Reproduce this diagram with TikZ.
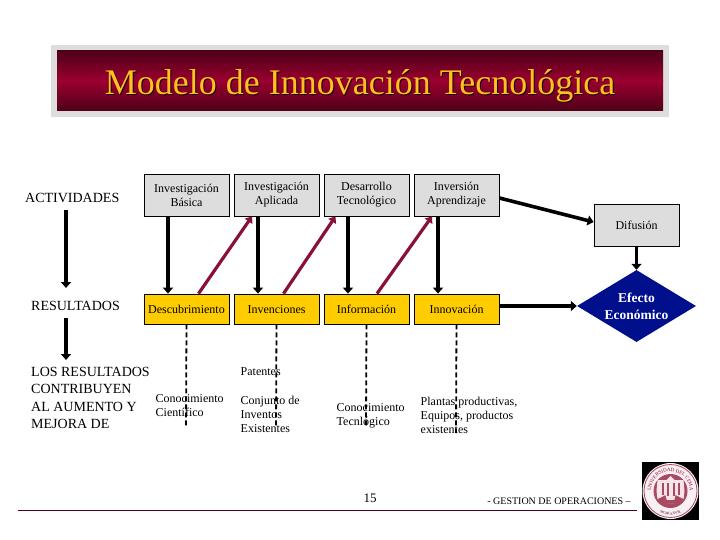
\documentclass[tikz,border=0pt]{standalone}
\usepackage{fontspec}
\setmainfont{Liberation Serif}
\usetikzlibrary{shapes.geometric,arrows.meta,decorations.text}
\definecolor{bandgray}{HTML}{DDDDDD}
\definecolor{boxgray}{HTML}{DDDDDD}
\definecolor{boxgold}{HTML}{FFCC00}
\definecolor{crim}{HTML}{9A0030}
\definecolor{crimdark}{HTML}{4E0018}
\definecolor{arrowred}{HTML}{8B1035}
\definecolor{navy}{HTML}{000F8C}
\definecolor{titlegold}{HTML}{FFC020}
\definecolor{sealred}{HTML}{A84A62}
\tikzset{
  x=1pt,y=-1pt,
  txt/.style={font=\fontsize{12}{14.3}\selectfont,inner sep=0,align=left},
  bigtxt/.style={font=\fontsize{14}{17.3}\selectfont,inner sep=0,align=left},
  boxtxt/.style={font=\fontsize{12}{14}\selectfont},
  graybox/.style={draw=black,line width=.8pt,fill=boxgray,minimum width=85pt,minimum height=42pt,inner sep=0,align=center,boxtxt},
  goldbox/.style={draw=black,line width=.8pt,fill=boxgold,minimum width=85pt,minimum height=30pt,inner sep=0,align=center,boxtxt,text height=10pt,text depth=2pt},
  blackarrow/.style={line width=3.6pt,draw=black,-{Triangle[length=6pt,width=10pt]}},
  redarrow/.style={line width=3.2pt,draw=arrowred,-{Triangle[length=6pt,width=9pt]}},
  dashline/.style={line width=1.8pt,draw=black,dash pattern=on 5pt off 3pt},
}
\begin{document}
\begin{tikzpicture}
\useasboundingbox (0,0) rectangle (720,540);
\fill[white] (0,0) rectangle (720,540);
% title band
\fill[bandgray] (51,45) rectangle (669,117);
\fill[top color=crimdark,bottom color=crim] (57,51) rectangle (663,81);
\fill[top color=crim,bottom color=crimdark] (57,81) rectangle (663,111);
\node[font=\fontsize{36}{38}\selectfont,text=black!70!crimdark,inner sep=0] at (361,87) {Modelo de Innovación Tecnológica};
\node[font=\fontsize{36}{38}\selectfont,text=titlegold,inner sep=0] (title) at (360,86) {Modelo de Innovación Tecnológica};
% row labels
\node[bigtxt,anchor=west] (act) at (25,198) {ACTIVIDADES};
\node[bigtxt,anchor=west] (res) at (31,306) {RESULTADOS};
\node[bigtxt,anchor=north west] (los) at (31,367) {LOS RESULTADOS\\CONTRIBUYEN\\AL AUMENTO Y\\MEJORA DE};
% boxes
\node[graybox] (ib) at (186.5,195) {Investigación\\Básica};
\node[graybox] (ia) at (276.5,195) {Investigación\\Aplicada};
\node[graybox] (dt) at (366.5,195) {Desarrollo\\Tecnológico};
\node[graybox] (ia2) at (456.5,195) {Inversión\\Aprendizaje};
\node[graybox] (dif) at (636.5,225) {Difusión};
\node[goldbox] (des) at (186.5,309) {Descubrimiento};
\node[goldbox] (inv) at (276.5,309) {Invenciones};
\node[goldbox] (inf) at (366.5,309) {Información};
\node[goldbox] (ino) at (456.5,309) {Innovación};
\node[diamond,aspect=1.65,fill=navy,inner sep=0,minimum width=119pt,minimum height=72pt,text=white,align=center,font=\bfseries\fontsize{13.5}{17}\selectfont] (efe) at (636.5,306) {Efecto\\Económico};
% lower texts
\node[txt,anchor=west] (pat) at (240.5,372) {Patentes};
\node[txt,anchor=north west] (cc) at (155.5,394) {Conocimiento\\Científico};
\node[txt,anchor=north west] (ci) at (240.5,395.5) {Conjunto de\\Inventos\\Existentes};
\node[txt,anchor=north west] (ct) at (336.5,403) {Conocimiento\\Tecnlógico};
\node[txt,anchor=north west] (pl) at (420.5,396.5) {Plantas productivas,\\Equipos, productos\\existentes};
% free ends
\coordinate (a1) at (66,210); \coordinate (a2) at (66,288);
\coordinate (a3) at (66,318); \coordinate (a4) at (66,360);
\coordinate (d1) at (186,427); \coordinate (d2) at (276,428);
\coordinate (d3) at (366,427); \coordinate (d4) at (456,433);
% left arrows
\draw[blackarrow] (a1) -- (a2);
\draw[blackarrow] (a3) -- (a4);
% down arrows
\draw[blackarrow] ([xshift=-18.5pt]ib.south) -- ([xshift=-18.5pt]des.north);
\draw[blackarrow] ([xshift=-18.5pt]ia.south) -- ([xshift=-18.5pt]inv.north);
\draw[blackarrow] ([xshift=-18.5pt]dt.south) -- ([xshift=-18.5pt]inf.north);
\draw[blackarrow] ([xshift=-18.5pt]ia2.south) -- ([xshift=-18.5pt]ino.north);
% red arrows
\draw[redarrow] ([xshift=12pt]des.north) -- ([xshift=-24.5pt]ia.south);
\draw[redarrow] ([xshift=7pt]inv.north) -- ([xshift=-31pt]dt.south);
\draw[redarrow] ([xshift=10.5pt]inf.north) -- ([xshift=-24.5pt]ia2.south);
% others
\draw[blackarrow] ([yshift=-3pt]ia2.east) -- ([yshift=3pt]dif.west);
\draw[blackarrow] (dif.south) -- (efe.north);
\draw[blackarrow] ([yshift=3pt]ino.east) -- (efe.west);
% dashed
\draw[dashline] (des.south) -- (d1);
\draw[dashline] (inv.south) -- (d2);
\draw[dashline] (inf.south) -- (d3);
\draw[dashline] (ino.south) -- (d4);
% footer
\draw[draw=crimdark,line width=.9pt] (18,510.5) -- (637,510.5);
\node[txt,font=\fontsize{13}{15}\selectfont,anchor=center] (num) at (370,498) {15};
\node[txt,font=\fontsize{10}{12}\selectfont,anchor=center] (ges) at (559,501.5) {- GESTION DE OPERACIONES –};
% seal
\fill[black] (642,462) rectangle (699,520);
\begin{scope}[shift={(670.5,491)},x=1pt,y=1pt]
\fill[white!94!crim] (0,0) circle (28);
\draw[sealred,line width=.8pt] (0,0) circle (26.5);
\fill[sealred] (0,0) circle (17);
% eagle
\fill[white!90!crim] (0,15) -- (-4,11) -- (-13,11) -- (-14,0) -- (-13,-8) -- (-5,-4) -- (-3,-12) -- (3,-12) -- (5,-4) -- (13,-8) -- (14,0) -- (13,11) -- (4,11) -- cycle;
\fill[sealred] (-9,8) rectangle (-7,-4);
\fill[sealred] (-4,8) rectangle (-2,-5);
\fill[sealred] (2,8) rectangle (4,-5);
\fill[sealred] (7,8) rectangle (9,-4);
\fill[sealred] (-11,-9) rectangle (11,-12);
\path[decorate,decoration={text along path,text align=center,text color=crim,
  text={|\fontsize{5}{5}\selectfont|UNIVERSIDAD DEL CEMA}}]
  (210:19.5) arc[start angle=210,end angle=-30,radius=19.5];
\path[decorate,decoration={text along path,text align=center,text color=crimdark,
  text={|\fontsize{3.5}{4}\selectfont|MCMLXXVIII}}]
  (235:24) arc[start angle=235,end angle=305,radius=24];
\end{scope}
\end{tikzpicture}
\end{document}
